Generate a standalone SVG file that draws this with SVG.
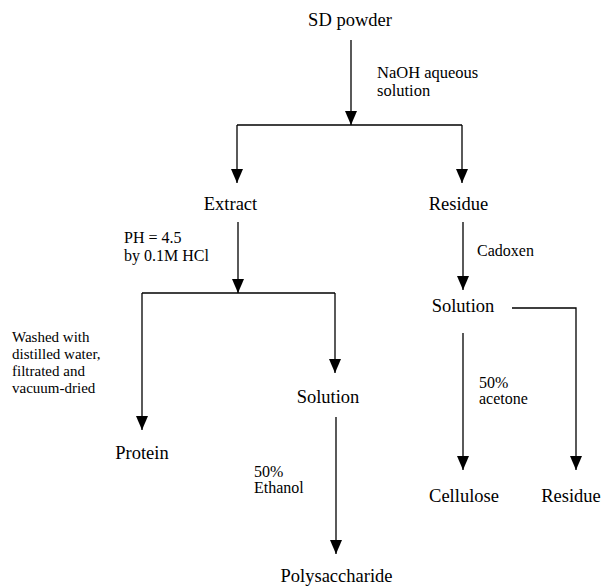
<svg xmlns="http://www.w3.org/2000/svg" width="603" height="587" viewBox="0 0 603 587" font-family="'Liberation Serif', 'Times New Roman', Tinos, 'DejaVu Serif', serif">
<defs>
<marker id="ah" viewBox="0 0 14 12" refX="14" refY="6" markerWidth="14" markerHeight="12" markerUnits="userSpaceOnUse" orient="auto">
<path d="M0,0 L14,6 L0,12 z" fill="#000"/>
</marker>
<style>
text{font-family:'Liberation Serif','Times New Roman',Tinos,'DejaVu Serif',serif;fill:#000}
.n{font-size:18.5px;text-anchor:middle}
.a{font-size:16px}
.w{font-size:15px}
.c{fill:none;stroke:#000;stroke-width:1.3}
.ar{marker-end:url(#ah)}
</style>
</defs>
<rect width="603" height="587" fill="#fff"/>
<g id="connectors">
<line class="c ar" x1="351" y1="40" x2="351" y2="125"/>
<line class="c" x1="237" y1="125" x2="462" y2="125"/>
<line class="c ar" x1="237" y1="125" x2="237" y2="183"/>
<line class="c ar" x1="462" y1="125" x2="462" y2="183"/>
<line class="c ar" x1="238" y1="222" x2="238" y2="293"/>
<line class="c" x1="142" y1="293" x2="335" y2="293"/>
<line class="c ar" x1="142" y1="293" x2="142" y2="430"/>
<line class="c ar" x1="335" y1="293" x2="335" y2="373"/>
<line class="c ar" x1="336" y1="417" x2="336" y2="554"/>
<line class="c ar" x1="463" y1="222" x2="463" y2="290"/>
<polyline class="c ar" points="512,308 576,308 576,470"/>
<line class="c ar" x1="463" y1="333" x2="463" y2="470"/>
</g>
<g id="labels">
<text class="a" x="377" y="78" style="font-size:16.5px">NaOH  aqueous</text>
<text class="a" x="377" y="96" style="font-size:16.5px">solution</text>
<text class="a" x="124" y="243">PH = 4.5</text>
<text class="a" x="124" y="261">by 0.1M HCl</text>
<text class="a" x="477" y="256">Cadoxen</text>
<text class="w" x="12" y="342">Washed with</text>
<text class="w" x="12" y="359">distilled water,</text>
<text class="w" x="12" y="376">filtrated and</text>
<text class="w" x="12" y="393">vacuum-dried</text>
<text class="a" x="479" y="388">50%</text>
<text class="a" x="479" y="404">acetone</text>
<text class="a" x="254" y="477">50%</text>
<text class="a" x="254" y="493">Ethanol</text>
</g>
<g id="sd-powder"><text class="n" x="350" y="26">SD powder</text></g>
<g id="extract"><text class="n" x="230.5" y="210">Extract</text></g>
<g id="residue-1"><text class="n" x="458.5" y="210">Residue</text></g>
<g id="solution-2"><text class="n" x="463" y="312">Solution</text></g>
<g id="solution-1"><text class="n" x="328" y="403">Solution</text></g>
<g id="protein"><text class="n" x="142" y="459">Protein</text></g>
<g id="cellulose"><text class="n" x="464" y="502">Cellulose</text></g>
<g id="residue-2"><text class="n" x="571" y="502">Residue</text></g>
<g id="polysaccharide"><text class="n" x="336.5" y="582">Polysaccharide</text></g>
</svg>
